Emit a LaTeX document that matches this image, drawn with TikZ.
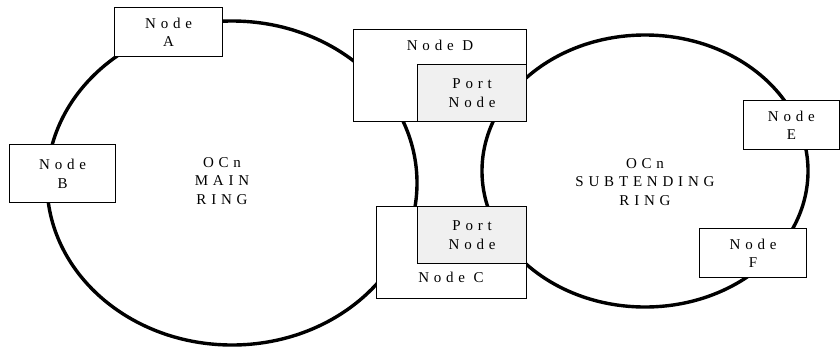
\documentclass[tikz,border=0pt]{standalone}
\usepackage{fontspec}
\setmainfont{Liberation Serif}
\newfontfamily\spc[LetterSpace=32]{Liberation Serif}
\begin{document}
\begin{tikzpicture}[x=1pt,y=-1pt,
  ring/.style={line width=3.4pt},
  lbl/.style={align=center, inner sep=0pt, font=\spc\fontsize{15}{18.5}\selectfont},
  box/.style={lbl, draw, line width=1.3pt, fill=white, anchor=north west},
  portbox/.style={box, fill=black!6}]
\useasboundingbox (0,0) rectangle (840,349);
% rings
\draw[ring] (232,183) ellipse [x radius=185pt, y radius=162pt];
\draw[ring] (645,171) ellipse [x radius=163pt, y radius=136pt];
\node[lbl] (maintxt) at (222,181) {OCn\\MAIN\\RING};
\node[lbl] (subtxt) at (645,182) {OCn\\SUBTENDING\\RING};
% nodes
\node[box, minimum width=108pt, minimum height=49pt] (A) at (114,7) {Node\\A};
\node[box, minimum width=106pt, minimum height=58pt] (B) at (9,144) {Node\\B};
\node[box, minimum width=95.5pt, minimum height=49pt] (E) at (743,100) {Node\\E};
\node[box, minimum width=107pt, minimum height=49pt] (F) at (699,228) {Node\\F};
\node[box, minimum width=173pt, minimum height=92pt] (D) at (353,29) {};
\node[lbl] (Dtxt) at (440,45) {Node D};
\node[portbox, minimum width=109pt, minimum height=57pt] (PD) at (417,64) {Port\\Node};
\node[box, minimum width=150pt, minimum height=92pt] (C) at (376,206) {};
\node[lbl] (Ctxt) at (451,277) {Node C};
\node[portbox, minimum width=109pt, minimum height=57pt] (PC) at (417,206) {Port\\Node};
\end{tikzpicture}
\end{document}
